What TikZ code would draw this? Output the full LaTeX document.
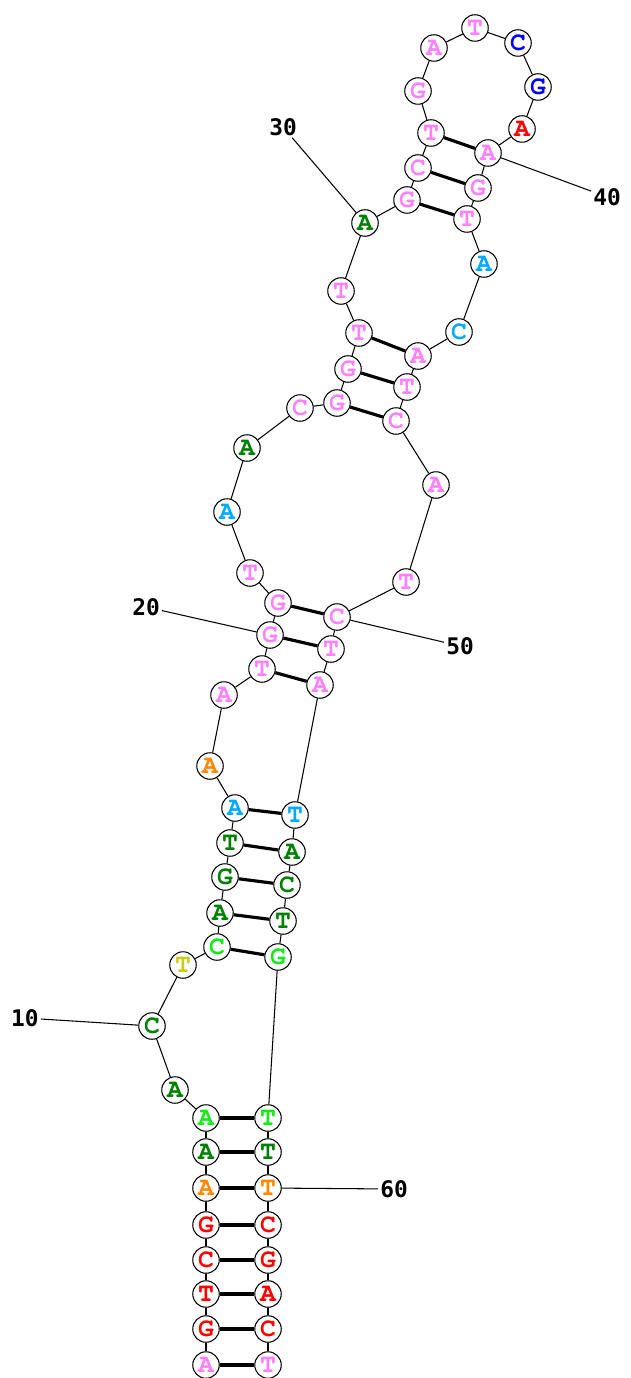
\documentclass[tikz,border=0pt]{standalone}
\usepackage[T1]{fontenc}
\usepackage{fontspec}
\newfontfamily\numfont{DejaVu Sans Mono}
\newcommand\ntfont{\fontencoding{T1}\fontfamily{pcr}\fontseries{b}\fontsize{15}{15}\selectfont}
\definecolor{pk}{RGB}{255,128,255}
\definecolor{rd}{RGB}{255,0,0}
\definecolor{or}{RGB}{255,136,0}
\definecolor{dg}{RGB}{0,128,0}
\definecolor{lg}{RGB}{20,235,20}
\definecolor{lb}{RGB}{0,170,255}
\definecolor{bl}{RGB}{0,0,255}
\definecolor{yl}{RGB}{204,204,30}

\begin{document}
\begin{tikzpicture}[x=0.02cm, y=-0.02cm,
    nt/.style={circle, draw, fill=white, minimum size=0.53cm, inner sep=0pt, line width=0.6pt,
               font=\ntfont},
    bb/.style={line width=0.6pt},
    bp/.style={line width=1.8pt},
    lab/.style={inner sep=1pt, font=\numfont\bfseries\fontsize{13}{13}\selectfont}]
    \useasboundingbox (0,0) rectangle (630,1378);

    % Cac nucleotide: so thu tu / x / y / chu / mau
    \foreach \i/\x/\y/\b/\c in {
        1/206/1365/A/pk, 2/206/1329/G/rd, 3/206/1294/T/rd, 4/206/1260/C/rd,
        5/206/1225/G/rd, 6/206/1188/A/or, 7/206/1152/A/dg, 8/206/1118/A/lg,
        9/175/1090/A/dg, 10/152/1026/C/dg, 11/183/965/T/yl, 12/217/947/C/lg,
        13/220/913/A/dg, 14/225/877/G/dg, 15/230/843/T/dg, 16/235/808/A/lb,
        17/210/766/A/or, 18/224/695/A/pk, 19/262/669/T/pk, 20/270/635/G/pk,
        21/278/603/G/pk, 22/250/573/T/pk, 23/227/512/A/lb, 24/247/448/A/dg,
        25/300/408/C/pk, 26/337/403/G/pk, 27/348/369/G/pk, 28/359/333/T/pk,
        29/341/291/T/pk, 30/365/223/A/dg, 31/407/200/G/pk, 32/418/168/C/pk,
        33/431/133/T/pk, 34/418/91/G/pk, 35/434/48/A/pk, 36/475/28/T/pk,
        37/518/43/C/bl, 38/538/87/G/bl, 39/522/129/A/rd, 40/488/153/A/pk,
        41/478/188/G/pk, 42/467/219/T/pk, 43/484/264/A/lb, 44/459/332/C/lb,
        45/418/356/A/pk, 46/407/387/T/pk, 47/396/421/C/pk, 48/436/485/A/pk,
        49/406/582/T/pk, 50/337/617/C/pk, 51/331/649/T/pk, 52/320/685/A/pk,
        53/295/815/T/lb, 54/292/852/A/dg, 55/287/885/C/dg, 56/283/921/T/dg,
        57/278/957/G/lg, 58/268/1118/T/lg, 59/268/1152/T/dg, 60/268/1188/T/or,
        61/268/1225/C/rd, 62/268/1260/G/rd, 63/268/1294/A/rd, 64/268/1329/C/rd,
        65/268/1365/T/pk}
        \node[nt, text=\c] (n\i) at (\x,\y) {\b};

    % Khung xuong noi cac nucleotide lien tiep
    \foreach \i in {1,...,64} {
        \pgfmathtruncatemacro\j{\i+1}
        \draw[bb] (n\i) -- (n\j);
    }

    % Cac cap base
    \foreach \a/\b in {1/65, 2/64, 3/63, 4/62, 5/61, 6/60, 7/59, 8/58,
                       12/57, 13/56, 14/55, 15/54, 16/53,
                       19/52, 20/51, 21/50,
                       26/47, 27/46, 28/45,
                       31/42, 32/41, 33/40}
        \draw[bp] (n\a) -- (n\b);

    % Nhan so thu tu
    \foreach \k/\x/\y in {10/25/1018, 20/146/607, 30/283/127,
                          40/607/197, 50/460/646, 60/394/1189} {
        \node[lab] (l\k) at (\x,\y) {\k};
        \draw[bb] (l\k) -- (n\k);
    }
\end{tikzpicture}
\end{document}
